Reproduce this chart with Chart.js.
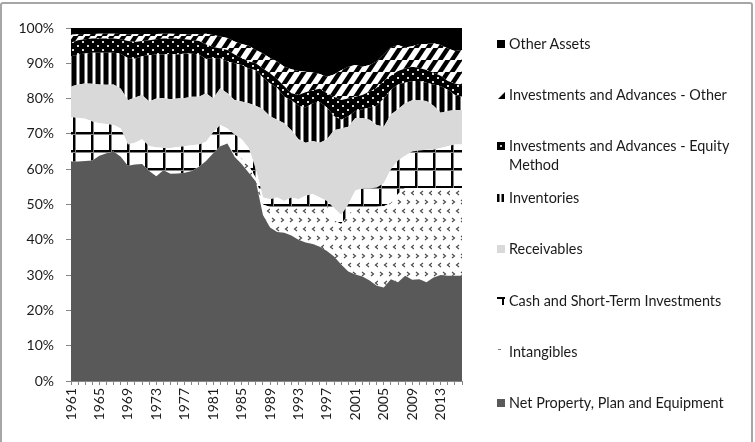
<!DOCTYPE html>
<html>
<head>
<meta charset="utf-8">
<script src="https://cdn.jsdelivr.net/npm/chart.js@4.4.1/dist/chart.umd.min.js"></script>
<style>
  html, body { margin: 0; padding: 0; background: #fff; }
  body { width: 755px; height: 442px; overflow: hidden; position: relative; font-family: Lato, 'Open Sans', sans-serif; }
  #frame { position: absolute; left: 0; top: 2px; width: 749px; height: 470px; border: 2px solid #a6a6a6; border-radius: 3px; }
  #chart { position: absolute; left: 0; top: 0; }
  .item { position: absolute; left: 497px; display: flex; align-items: flex-start; font-size: 14.4px; line-height: 19px; color: #1a1a1a; width: 250px; }
  .item canvas { flex: none; margin-top: 6px; margin-right: 4px; }
</style>
</head>
<body>
<div id="frame"></div>
<canvas id="chart" width="755" height="442"></canvas>
<div id="legend"></div>

<script>
/* ── Data (share of total assets) ── */
const YEARS = [
  '1961','1962','1963','1964','1965','1966','1967','1968','1969','1970',
  '1971','1972','1973','1974','1975','1976','1977','1978','1979','1980',
  '1981','1982','1983','1984','1985','1986','1987','1988','1989','1990',
  '1991','1992','1993','1994','1995','1996','1997','1998','1999','2000',
  '2001','2002','2003','2004','2005','2006','2007','2008','2009','2010',
  '2011','2012','2013','2014','2015','2016'
];

const netPPE = [
  62.2, 62.2, 62.3, 62.5, 63.8, 64.5, 65.0, 63.5, 61.0, 61.3,
  61.5, 59.5, 58.0, 59.7, 58.7, 58.8, 59.0, 59.5, 60.7, 62.3,
  64.5, 66.5, 67.3, 63.5, 61.5, 59.0, 56.5, 47.0, 43.5, 42.2,
  42.0, 41.2, 40.0, 39.2, 38.8, 38.0, 36.8, 35.3, 33.0, 31.0,
  30.2, 29.6, 28.5, 27.0, 26.5, 28.8, 28.0, 29.8, 28.7, 28.8,
  28.0, 29.3, 30.0, 29.8, 29.8, 29.8
];
const intangibles = [
  0, 0, 0, 0, 0, 0, 0, 0, 0, 0,
  0, 0, 0, 0, 0, 0, 0, 0, 0, 0,
  0, 0, 0, 0.5, 1.5, 2.0, 1.0, 3.0, 5.8, 7.1,
  7.3, 8.1, 9.3, 10.1, 10.5, 11.3, 12.5, 10.2, 11.5, 16.0,
  19.1, 19.7, 20.8, 22.3, 23.0, 21.7, 25.0, 24.9, 26.0, 25.9,
  26.7, 25.4, 24.7, 24.9, 24.9, 24.9
];
const cash = [
  12.6, 12.3, 12.0, 11.0, 9.2, 8.3, 7.5, 8.0, 6.0, 6.2,
  7.0, 7.0, 8.2, 6.3, 7.3, 7.5, 7.5, 7.3, 6.3, 5.5,
  6.0, 6.0, 4.2, 5.8, 5.5, 5.0, 2.5, 2.0, 2.2, 2.7,
  1.7, 2.7, 2.2, 3.2, 3.7, 2.7, 1.7, 3.5, 2.5, 3.0,
  4.7, 5.2, 5.2, 5.5, 6.5, 9.5, 9.5, 9.1, 10.3, 10.6,
  10.8, 10.8, 11.3, 11.8, 12.3, 12.3
];
const receivables = [
  8.6, 9.5, 10.0, 10.7, 11.0, 11.1, 11.5, 11.3, 12.5, 12.8,
  12.5, 12.7, 13.8, 14.2, 13.8, 13.7, 13.7, 13.7, 13.5, 13.7,
  9.5, 10.4, 10.0, 9.8, 10.7, 12.7, 18.0, 25.0, 23.5, 22.0,
  22.0, 19.0, 17.0, 15.0, 15.0, 15.5, 17.5, 22.0, 24.5, 22.0,
  20.5, 20.0, 19.5, 17.7, 16.0, 15.5, 14.5, 14.9, 14.5, 14.2,
  13.8, 12.5, 10.0, 10.0, 9.8, 9.8
];
const inventories = [
  8.6, 8.5, 8.5, 8.8, 9.0, 9.1, 9.0, 9.8, 12.0, 11.0,
  11.0, 13.1, 12.5, 12.3, 12.8, 12.5, 12.6, 12.2, 12.0, 9.7,
  11.5, 8.5, 9.0, 10.4, 10.3, 9.8, 10.0, 9.0, 9.3, 9.0,
  7.5, 8.5, 9.5, 10.0, 10.7, 11.5, 9.0, 4.0, 2.5, 3.0,
  2.0, 2.5, 3.5, 5.5, 8.0, 7.0, 7.0, 5.8, 5.5, 5.5,
  5.2, 6.0, 7.5, 6.0, 4.2, 3.7
];
const invEquity = [
  3.8, 4.0, 4.0, 4.0, 4.0, 4.0, 4.0, 4.2, 4.8, 4.7,
  4.3, 4.2, 4.3, 4.5, 4.4, 4.5, 4.0, 3.9, 3.8, 4.1,
  3.1, 2.8, 3.3, 2.5, 2.0, 2.0, 2.0, 2.5, 2.9, 2.5,
  3.0, 2.0, 3.0, 4.3, 3.7, 3.8, 4.0, 5.5, 5.6, 5.0,
  4.0, 4.0, 4.5, 5.0, 5.0, 4.0, 3.8, 4.0, 4.0, 3.7,
  3.6, 3.3, 3.0, 2.5, 3.3, 3.3
];
const invOther = [
  2.3, 1.7, 1.5, 1.3, 1.4, 1.4, 1.4, 1.5, 1.9, 2.2,
  2.0, 1.8, 1.5, 1.4, 1.4, 1.3, 1.4, 1.6, 1.9, 3.1,
  3.4, 3.4, 3.4, 3.7, 4.0, 4.5, 3.8, 4.3, 4.3, 5.0,
  5.5, 6.8, 6.8, 5.8, 5.0, 4.2, 4.7, 6.3, 8.4, 9.0,
  9.0, 8.0, 7.5, 7.5, 7.5, 8.0, 7.4, 6.0, 5.8, 6.8,
  7.4, 8.4, 8.7, 9.2, 9.2, 10.0
];
const otherAssets = [
  1.9, 1.8, 1.7, 1.7, 1.6, 1.6, 1.6, 1.7, 1.8, 1.8,
  1.7, 1.7, 1.7, 1.6, 1.6, 1.7, 1.8, 1.8, 1.8, 1.6,
  2.0, 2.4, 2.8, 3.8, 4.5, 5.0, 6.2, 7.2, 8.5, 9.5,
  11.0, 11.7, 12.2, 12.4, 12.6, 13.0, 13.8, 13.2, 12.0, 11.0,
  10.5, 11.0, 10.5, 9.5, 7.5, 5.5, 4.8, 5.5, 5.2, 4.5,
  4.5, 4.3, 4.8, 5.8, 6.5, 6.2
];

const SERIES_NAMES = [
  'Net Property, Plan and Equipment',
  'Intangibles',
  'Cash and Short-Term Investments',
  'Receivables',
  'Inventories',
  'Investments and Advances - Equity Method',
  'Investments and Advances - Other',
  'Other Assets'
];
const Y_TICKS = [0, 10, 20, 30, 40, 50, 60, 70, 80, 90, 100];

/* ── Pattern fills (Excel-style) ─────────────────────────── */
function makeTile(w, h, draw) {
  const c = document.createElement('canvas');
  c.width = w; c.height = h;
  draw(c.getContext('2d'));
  return c;
}

const ctxMain = document.getElementById('chart').getContext('2d');

const patDiag = ctxMain.createPattern(makeTile(12, 12, g => {
  g.fillStyle = '#fff'; g.fillRect(0, 0, 12, 12);
  g.strokeStyle = '#000'; g.lineWidth = 4.4;
  for (const c of [-12, 0, 12, 24]) {
    g.beginPath(); g.moveTo(c - 12, 12 + 12); g.lineTo(c + 12, -12); g.stroke();
  }
}), 'repeat');

const patDots = ctxMain.createPattern(makeTile(10, 8, g => {
  g.fillStyle = '#000'; g.fillRect(0, 0, 10, 8);
  g.fillStyle = '#d8d8d8';
  g.fillRect(2, 1, 2, 2);
  g.fillRect(7, 5, 2, 2);
}), 'repeat');

const patVert = ctxMain.createPattern(makeTile(8, 8, g => {
  g.fillStyle = '#fff'; g.fillRect(0, 0, 8, 8);
  g.fillStyle = '#000'; g.fillRect(0, 0, 4, 8);
  g.fillStyle = '#7a7a7a'; g.fillRect(4, 0, 1, 8); g.fillRect(7, 0, 1, 8);
}), 'repeat');

const patGrid = ctxMain.createPattern(makeTile(18, 18, g => {
  g.fillStyle = '#fff'; g.fillRect(0, 0, 18, 18);
  g.fillStyle = '#000';
  g.fillRect(1, 0, 2, 18);
  g.fillRect(0, 6, 18, 2);
  g.fillStyle = '#888';
  g.fillRect(3, 0, 1, 18);
  g.fillRect(0, 8, 18, 1);
}), 'repeat');

const patChevron = ctxMain.createPattern(makeTile(18, 18, g => {
  g.fillStyle = '#fff'; g.fillRect(0, 0, 18, 18);
  g.strokeStyle = '#4a4a4a'; g.lineWidth = 1.2;
  const right = (x, y) => { g.beginPath(); g.moveTo(x, y); g.lineTo(x + 2.5, y + 2); g.lineTo(x, y + 4); g.stroke(); };
  const left  = (x, y) => { g.beginPath(); g.moveTo(x + 2.5, y); g.lineTo(x, y + 2); g.lineTo(x + 2.5, y + 4); g.stroke(); };
  right(2, 2); right(11, 2);
  left(6.5, 11); left(15.5, 11);
}), 'repeat');

const FILLS = ['#595959', patChevron, patGrid, '#d9d9d9', patVert, patDots, patDiag, '#000000'];

/* ── 100% stacking, like Excel ── */
const RAW = [netPPE, intangibles, cash, receivables, inventories, invEquity, invOther, otherAssets];
const totals = YEARS.map((_, i) => RAW.reduce((s, arr) => s + arr[i], 0));
const PCT = RAW.map(arr => arr.map((v, i) => v / totals[i] * 100));

const datasets = RAW.map((_, k) => ({
  label: SERIES_NAMES[k],
  data: PCT[k],
  backgroundColor: FILLS[k],
  borderWidth: 0,
  pointRadius: 0,
  tension: 0,
  fill: k === 0 ? 'origin' : '-1'
}));

const FONT = { family: 'Lato', size: 14 };

new Chart(ctxMain, {
  type: 'line',
  data: { labels: YEARS, datasets },
  options: {
    responsive: false,
    animation: false,
    devicePixelRatio: 1,
    layout: { padding: { left: 0, top: 28, right: 293, bottom: 0 } },
    plugins: { legend: { display: false }, tooltip: { enabled: false } },
    elements: { line: { borderWidth: 0 } },
    scales: {
      x: {
        offset: false,
        grid: { drawOnChartArea: false, drawTicks: true, tickLength: 4, color: '#868686' },
        border: { display: true, color: '#868686', width: 1 },
        ticks: {
          autoSkip: false, minRotation: 90, maxRotation: 90, padding: 3,
          font: FONT, color: '#1a1a1a',
          callback: (v, i) => (i % 4 === 0 ? YEARS[i] : '')
        },
        afterFit: s => { s.height = 61; }
      },
      y: {
        stacked: true, min: 0, max: 100,
        afterBuildTicks: s => { s.ticks = Y_TICKS.map(v => ({ value: v })); },
        grid: { drawOnChartArea: false, drawTicks: true, tickLength: 5, color: '#868686' },
        border: { display: true, color: '#868686', width: 1 },
        ticks: { padding: 12, font: FONT, color: '#1a1a1a', callback: v => v + '%' },
        afterFit: s => { s.width = 71; }
      }
    }
  }
});

/* ── HTML legend, top item first (reverse of stack) ── */
function drawSwatch(g, k) {
  g.clearRect(0, 0, 8, 8);
  switch (k) {
    case 7: g.fillStyle = '#000'; g.fillRect(0, 0, 8, 8); break;
    case 6:
      g.fillStyle = '#000'; g.beginPath(); g.moveTo(8, 1); g.lineTo(8, 8); g.lineTo(1, 8); g.closePath(); g.fill();
      g.fillStyle = '#777'; g.fillRect(5, 3, 1, 1);
      break;
    case 5: g.fillStyle = '#000'; g.fillRect(0, 0, 8, 8); g.fillStyle = '#ccc'; g.fillRect(3, 3, 2, 2); break;
    case 4: g.fillStyle = '#000'; g.fillRect(0, 0, 2.5, 8); g.fillRect(4.5, 0, 2.5, 8); break;
    case 3: g.fillStyle = '#d9d9d9'; g.fillRect(0, 0, 8, 8); break;
    case 2: g.fillStyle = '#000'; g.fillRect(0, 0, 8, 2); g.fillRect(5, 0, 2, 8); break;
    case 1: g.fillStyle = '#777'; g.fillRect(1, 1, 3, 1); break;
    case 0: g.fillStyle = '#595959'; g.fillRect(0, 0, 8, 8); break;
  }
}

const legendEl = document.getElementById('legend');
const LEGEND_TOP = 33.5;
const LEGEND_STEP = 51.4;
for (let j = 0; j < SERIES_NAMES.length; j++) {
  const k = SERIES_NAMES.length - 1 - j;
  const item = document.createElement('div');
  item.className = 'item';
  item.style.top = (LEGEND_TOP + j * LEGEND_STEP) + 'px';
  const sw = document.createElement('canvas');
  sw.width = 8; sw.height = 8;
  drawSwatch(sw.getContext('2d'), k);
  const txt = document.createElement('span');
  txt.textContent = SERIES_NAMES[k];
  item.appendChild(sw);
  item.appendChild(txt);
  legendEl.appendChild(item);
}
</script>
</body>
</html>
